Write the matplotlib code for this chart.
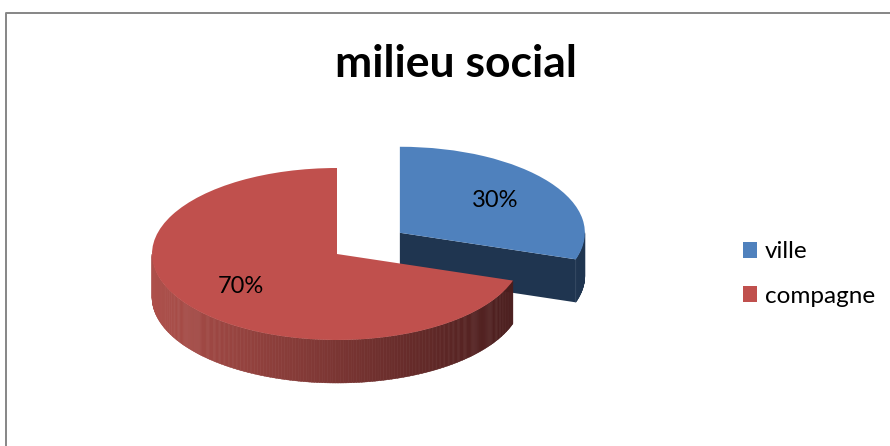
import numpy as np
import matplotlib.pyplot as plt
from matplotlib.patches import Polygon
from matplotlib.lines import Line2D

# données
categories = ['ville', 'compagne']
values = [30, 70]
colors = ['#4F81BD', '#C0504D']
side_colors = ['#1F3550', None]   # None -> dégradé
explode = [0.42, 0]

depth = 0.5   # épaisseur du "disque" (unités y)

fig = plt.figure(figsize=(8.9, 4.46), dpi=100)

# cadre gris (haut + gauche, le reste sort de l'image)
fig.add_artist(Line2D([5.5/890, 5.5/890, 1.0], [0.0, 1 - 12.5/446, 1 - 12.5/446],
                      transform=fig.transFigure, color='#868686', linewidth=1.4))

fig.text(456/890, 1 - 64/446, 'milieu social', ha='center', va='center',
         fontsize=32, fontweight='bold', family='Lato')

# axes du camembert : 1 unité x = 185 px, 1 unité y = 86 px
cx, cy = 337, 446 - 254
ax = fig.add_axes([(cx - 1.5*185)/890, (cy - 1.8*86)/446, 3*185/890, 3.3*86/446])

wedges, texts, autotexts = ax.pie(values, explode=explode, colors=colors,
                                  startangle=90, counterclock=False,
                                  autopct='%.0f%%', pctdistance=0.64,
                                  wedgeprops=dict(linewidth=0),
                                  textprops=dict(fontsize=17, family='Lato'))
ax.set_aspect('auto')
ax.set_xlim(-1.5, 1.5)
ax.set_ylim(-1.8, 1.5)
ax.axis('off')

# faces latérales calculées à partir des angles des parts
fr = np.array(values) / sum(values)
start = 90.0
for i, f in enumerate(fr):
    t1 = start - f * 360   # angle de fin (sens horaire)
    t2 = start
    start = t1
    mid = np.radians((t1 + t2) / 2)
    ox, oy = explode[i] * np.cos(mid), explode[i] * np.sin(mid)
    z = 1 if i == 0 else 3
    wedges[i].set_zorder(z + 1)
    # face radiale visible (bord de fin de la part détachée)
    if explode[i] > 0:
        a = np.radians(t1)
        px, py = ox + np.cos(a), oy + np.sin(a)
        ax.add_patch(Polygon([(ox, oy), (px, py), (px, py - depth), (ox, oy - depth)],
                             closed=True, facecolor=side_colors[i], edgecolor='none', zorder=z))
    # bord extérieur visible (partie avant, 180..360)
    lo, hi = t1 % 360, t2 % 360
    if hi <= lo:
        hi += 360
    angs = np.arange(lo, hi, 0.5)
    angs = angs[(angs % 360 >= 180) & (angs % 360 <= 360)]
    for a0 in angs:
        a1 = min(a0 + 0.6, hi)
        r0, r1 = np.radians(a0), np.radians(a1)
        pts = [(ox + np.cos(r0), oy + np.sin(r0)), (ox + np.cos(r1), oy + np.sin(r1)),
               (ox + np.cos(r1), oy + np.sin(r1) - depth), (ox + np.cos(r0), oy + np.sin(r0) - depth)]
        if side_colors[i] is None:
            t = (np.cos(r0) + 1) / 2
            c0 = np.array([0.68, 0.31, 0.29])
            c1 = np.array([0.28, 0.11, 0.11])
            col = c0 + (c1 - c0) * t
        else:
            col = side_colors[i]
        ax.add_patch(Polygon(pts, closed=True, facecolor=col, edgecolor=col,
                             linewidth=0.3, zorder=z))

for t in autotexts:
    t.set_zorder(6)

# légende
fig.legend(wedges, categories, loc='center left', bbox_to_anchor=(721/890, 1 - 274/446),
           frameon=False, prop=dict(family='Lato', size=17.5), handlelength=0.6,
           handleheight=0.6, handletextpad=0.3, labelspacing=0.95)

plt.savefig('out.png')
